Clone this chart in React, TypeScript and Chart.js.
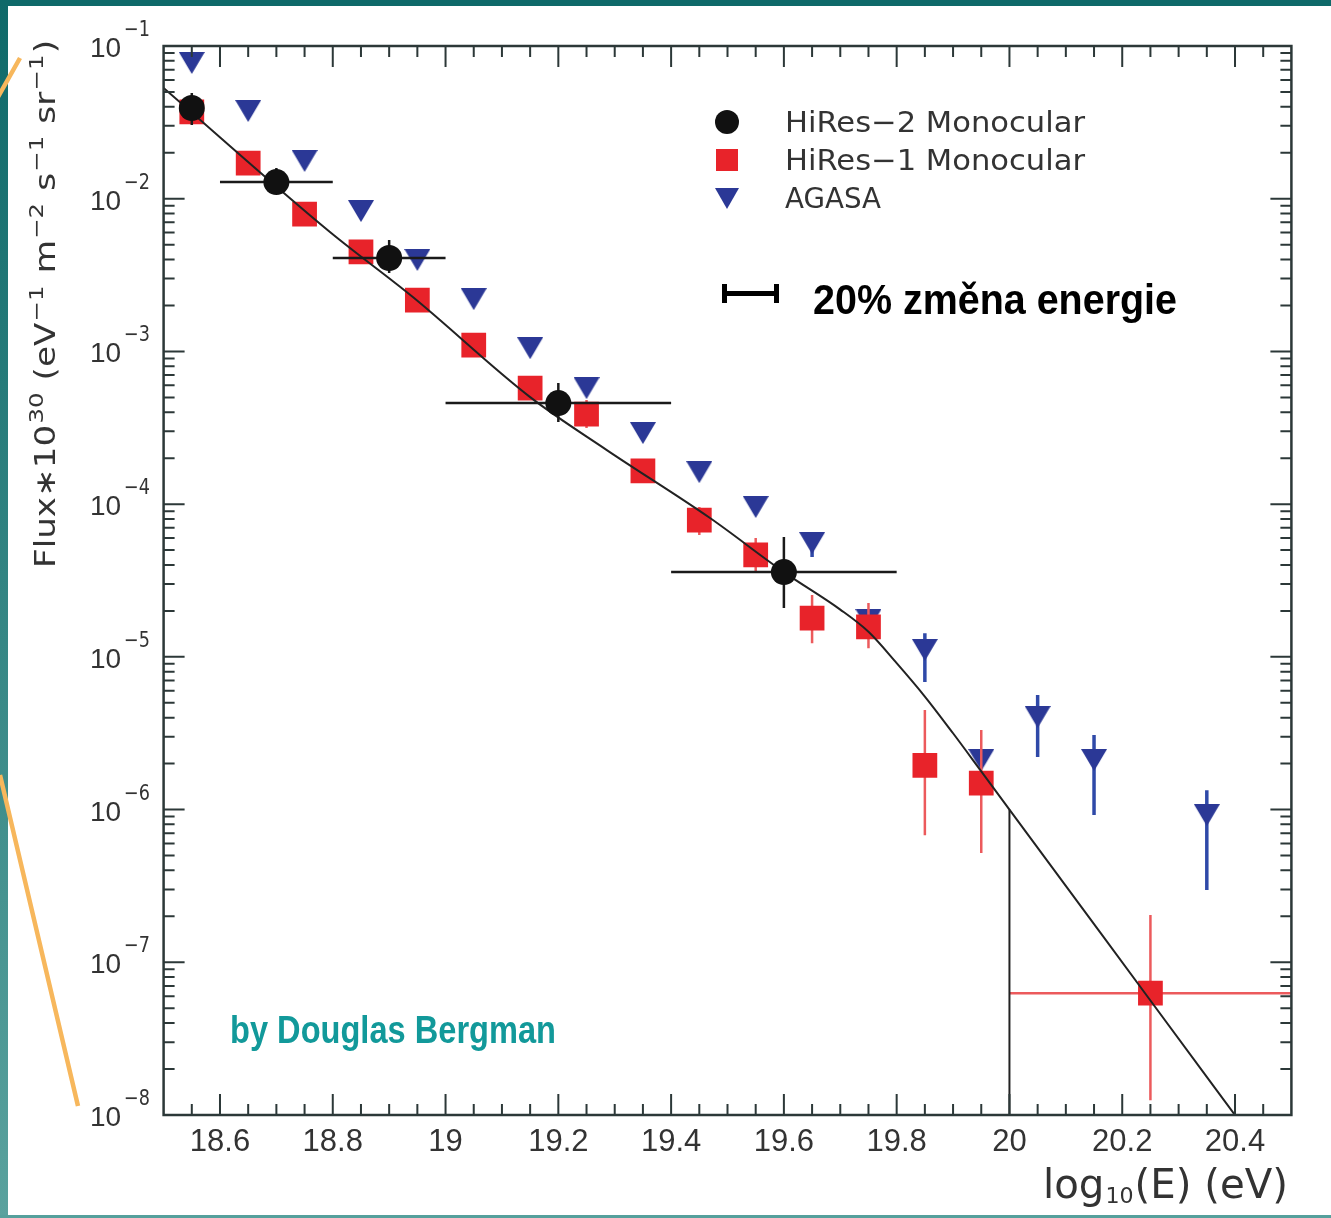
import React, { useEffect, useRef } from "react";
import { Chart, registerables } from "chart.js";

Chart.register(...registerables);

// ---------------- data ----------------
const hiRes2Energy = [18.55, 18.7, 18.9, 19.2, 19.6];
const hiRes2Flux = [3.93e-2, 1.285e-2, 4.09e-3, 4.59e-4, 3.59e-5];
const hiRes2FluxLow = [3.04e-2, 1.09e-2, 3.26e-3, 3.45e-4, 2.09e-5];
const hiRes2FluxHigh = [4.92e-2, 1.59e-2, 5.37e-3, 6.21e-4, 6.09e-5];
const hiRes2BinLow = [null, 18.6, 18.8, 19.0, 19.4];
const hiRes2BinHigh = [null, 18.8, 19.0, 19.4, 19.8];

const hiRes1Energy = [18.55, 18.65, 18.75, 18.85, 18.95, 19.05, 19.15, 19.25, 19.35, 19.45, 19.55, 19.65, 19.75, 19.85, 19.95, 20.25];
const hiRes1Flux = [3.7e-2, 1.71e-2, 7.94e-3, 4.48e-3, 2.17e-3, 1.1e-3, 5.75e-4, 3.89e-4, 1.65e-4, 7.87e-5, 4.65e-5, 1.79e-5, 1.57e-5, 1.95e-6, 1.49e-6, 6.28e-8];
const hiRes1FluxLow = [null, null, null, null, null, null, null, 3.15e-4, 1.4e-4, 6.28e-5, 3.59e-5, 1.23e-5, 1.14e-5, 6.8e-7, 5.19e-7, 1.25e-8];
const hiRes1FluxHigh = [null, null, null, null, null, null, null, 4.81e-4, 1.95e-4, 9.57e-5, 6.0e-5, 2.54e-5, 2.25e-5, 4.49e-6, 3.32e-6, 2.04e-7];
const hiRes1BinLow = [null, null, null, null, null, null, null, null, null, null, null, null, null, null, null, 20.0];
const hiRes1BinHigh = [null, null, null, null, null, null, null, null, null, null, null, null, null, null, null, 20.5];

const agasaEnergy = [18.55, 18.65, 18.75, 18.85, 18.95, 19.05, 19.15, 19.25, 19.35, 19.45, 19.55, 19.65, 19.75, 19.85, 19.95, 20.05, 20.15, 20.35];
const agasaFlux = [7.74e-2, 3.75e-2, 1.766e-2, 8.3e-3, 3.97e-3, 2.2e-3, 1.05e-3, 5.75e-4, 2.92e-4, 1.62e-4, 9.57e-5, 5.56e-5, 1.74e-5, 1.11e-5, 2.11e-6, 4.04e-6, 2.11e-6, 9.2e-7];
const agasaFluxLow = [null, null, null, null, null, null, null, null, null, null, null, 4.51e-5, null, 6.84e-6, null, 2.21e-6, 9.2e-7, 2.97e-7];
const agasaFluxHigh = [null, null, null, null, null, null, null, null, null, null, null, null, null, 1.43e-5, null, 5.62e-6, 3.08e-6, 1.34e-6];

const fitEnergy = [18.5, 18.795, 18.942, 19.15, 19.286, 19.469, 19.6, 19.7, 19.75, 19.8, 19.85, 19.9, 19.95, 20.0, 20.248, 20.41];
const fitFlux = [5.31e-2, 6.05e-3, 2.27e-3, 5.02e-4, 2.26e-4, 8.11e-5, 3.59e-5, 2.04e-5, 1.46e-5, 9.1e-6, 5.5e-6, 3.16e-6, 1.78e-6, 1.0e-6, 5.75e-8, 8.9e-9];

const thresholdEnergy = [20.0, 20.0];
const thresholdFlux = [1.0e-6, 1.0e-8];

const xTickValues = [18.6, 18.8, 19.0, 19.2, 19.4, 19.6, 19.8, 20.0, 20.2, 20.4];
const xTickLabels = ["18.6", "18.8", "19", "19.2", "19.4", "19.6", "19.8", "20", "20.2", "20.4"];
const yDecadeExponents = [-1, -2, -3, -4, -5, -6, -7, -8];
const yExponentLabels = ["−1", "−2", "−3", "−4", "−5", "−6", "−7", "−8"];

const legendLabels = ["HiRes−2 Monocular", "HiRes−1 Monocular", "AGASA"];
const xTitleMain = "log";
const xTitleSub = "10";
const xTitleRest = "(E) (eV)";
const yTitleParts: [string, boolean][] = [
  ["Flux∗10", false], ["30", true], [" (eV", false], ["−1", true], [" m", false], ["−2", true],
  [" s", false], ["−1", true], [" sr", false], ["−1", true], [")", false],
];
const annotationText = "20% změna energie";
const creditText = "by Douglas Bergman";

// ---------------- styles ----------------
const BLACK = "#111111";
const RED = "#e8232a";
const RED_ERR = "#ec5a5c";
const BLUE = "#2b3896";
const BLUE_ERR = "#2f49a8";
const FRAME = "#2c3838";
const TEXT = "#333333";
const NUM_FONT = '"Liberation Sans", Arial, sans-serif';
const TXT_FONT = '"DejaVu Sans", sans-serif';

const toPoints = (xs: number[], ys: number[]) => xs.map((x, i) => ({ x, y: ys[i] }));

type ErrSpec = {
  xs: number[];
  ys: number[];
  lo: (number | null)[];
  hi: (number | null)[];
  xlo: (number | null)[];
  xhi: (number | null)[];
  color: string;
  width: number;
};

const errorSpecs: Record<string, ErrSpec> = {
  [legendLabels[0]]: { xs: hiRes2Energy, ys: hiRes2Flux, lo: hiRes2FluxLow, hi: hiRes2FluxHigh, xlo: hiRes2BinLow, xhi: hiRes2BinHigh, color: "#1a1a1a", width: 2.5 },
  [legendLabels[1]]: { xs: hiRes1Energy, ys: hiRes1Flux, lo: hiRes1FluxLow, hi: hiRes1FluxHigh, xlo: hiRes1BinLow, xhi: hiRes1BinHigh, color: RED_ERR, width: 2.5 },
  [legendLabels[2]]: { xs: agasaEnergy, ys: agasaFlux, lo: agasaFluxLow, hi: agasaFluxHigh, xlo: agasaFluxLow.map(() => null), xhi: agasaFluxLow.map(() => null), color: BLUE_ERR, width: 3.5 },
};

function makeTriangle(w: number, h: number, color: string): HTMLCanvasElement {
  const c = document.createElement("canvas");
  c.width = w;
  c.height = h;
  const g = c.getContext("2d")!;
  g.fillStyle = color;
  g.beginPath();
  g.moveTo(0, 0);
  g.lineTo(w, 0);
  g.lineTo(w / 2, h);
  g.closePath();
  g.fill();
  return c;
}

function drawFitted(ctx: CanvasRenderingContext2D, text: string, x: number, y: number, width: number, font: string, color: string) {
  ctx.save();
  ctx.font = font;
  const w = ctx.measureText(text).width;
  ctx.translate(x, y);
  ctx.scale(width / w, 1);
  ctx.fillStyle = color;
  ctx.textAlign = "left";
  ctx.textBaseline = "alphabetic";
  ctx.fillText(text, 0, 0);
  ctx.restore();
}

const errorBarPlugin = {
  id: "errorBars",
  beforeDatasetDraw(chart: any, args: any) {
    const ds = chart.data.datasets[args.index];
    const spec = errorSpecs[ds.label];
    if (!spec) return;
    const { ctx, chartArea, scales } = chart;
    ctx.save();
    ctx.beginPath();
    ctx.rect(chartArea.left, chartArea.top, chartArea.right - chartArea.left, chartArea.bottom - chartArea.top);
    ctx.clip();
    ctx.strokeStyle = spec.color;
    ctx.lineWidth = spec.width;
    spec.xs.forEach((xv, i) => {
      const px = scales.x.getPixelForValue(xv);
      const py = scales.y.getPixelForValue(spec.ys[i]);
      const lo = spec.lo[i];
      const hi = spec.hi[i];
      if (lo != null || hi != null) {
        ctx.beginPath();
        ctx.moveTo(px, scales.y.getPixelForValue(hi != null ? hi : spec.ys[i]));
        ctx.lineTo(px, scales.y.getPixelForValue(lo != null ? lo : spec.ys[i]));
        ctx.stroke();
      }
      const xl = spec.xlo[i];
      const xh = spec.xhi[i];
      if (xl != null && xh != null) {
        ctx.beginPath();
        ctx.moveTo(scales.x.getPixelForValue(xl), py);
        ctx.lineTo(scales.x.getPixelForValue(xh), py);
        ctx.stroke();
      }
    });
    ctx.restore();
  },
};

const decorPlugin = {
  id: "decor",
  afterDraw(chart: any) {
    const { ctx, chartArea, scales } = chart;
    const { left, right, top, bottom } = chartArea;
    const xs = scales.x;
    const ys = scales.y;
    ctx.save();

    // ticks
    ctx.strokeStyle = FRAME;
    ctx.lineWidth = 2;
    const vt = (px: number, len: number) => {
      ctx.beginPath();
      ctx.moveTo(px, bottom);
      ctx.lineTo(px, bottom - len);
      ctx.moveTo(px, top);
      ctx.lineTo(px, top + len);
      ctx.stroke();
    };
    const ht = (py: number, len: number) => {
      ctx.beginPath();
      ctx.moveTo(left, py);
      ctx.lineTo(left + len, py);
      ctx.moveTo(right, py);
      ctx.lineTo(right - len, py);
      ctx.stroke();
    };
    for (let k = 1; k < 40; k++) {
      const v = 18.5 + k * 0.05;
      const isMajor = k % 4 === 2;
      vt(xs.getPixelForValue(v), isMajor ? 21 : 11);
    }
    for (let e = -8; e <= -1; e++) {
      if (e > -8 && e < -1) ht(ys.getPixelForValue(Math.pow(10, e)), 21);
      if (e < -1) {
        for (let m = 2; m <= 9; m++) ht(ys.getPixelForValue(m * Math.pow(10, e)), 11);
      }
    }

    // frame
    ctx.strokeStyle = FRAME;
    ctx.lineWidth = 2.5;
    ctx.strokeRect(left, top, right - left, bottom - top);

    // x tick labels
    ctx.fillStyle = TEXT;
    ctx.font = `31px ${NUM_FONT}`;
    ctx.textAlign = "center";
    ctx.textBaseline = "alphabetic";
    xTickValues.forEach((v, i) => {
      ctx.fillText(xTickLabels[i], xs.getPixelForValue(v), 1151);
    });

    // y tick labels (10 with superscript exponent)
    ctx.textAlign = "left";
    yDecadeExponents.forEach((e, i) => {
      const py = ys.getPixelForValue(Math.pow(10, e));
      ctx.font = `28px ${NUM_FONT}`;
      ctx.fillText("10", 90, py + 11);
      drawFitted(ctx, yExponentLabels[i], 124, py - 10, 26, `21px ${TXT_FONT}`, TEXT);
    });

    // x title
    {
      ctx.save();
      const mainFont = `40px ${TXT_FONT}`;
      const subFont = `22px ${TXT_FONT}`;
      ctx.font = mainFont;
      const w1 = ctx.measureText(xTitleMain).width;
      const w3 = ctx.measureText(xTitleRest).width;
      ctx.font = subFont;
      const w2 = ctx.measureText(xTitleSub).width + 2;
      const total = w1 + w2 + w3;
      const target = 245;
      ctx.translate(1043, 1198);
      ctx.scale(target / total, 1);
      ctx.fillStyle = TEXT;
      ctx.font = mainFont;
      ctx.fillText(xTitleMain, 0, 0);
      ctx.font = subFont;
      ctx.fillText(xTitleSub, w1 + 1, 5);
      ctx.font = mainFont;
      ctx.fillText(xTitleRest, w1 + w2, 0);
      ctx.restore();
    }

    // y title (rotated)
    {
      ctx.save();
      const baseFont = `28px ${TXT_FONT}`;
      const supFont = `20px ${TXT_FONT}`;
      const widths = yTitleParts.map(([t, sup]) => {
        ctx.font = sup ? supFont : baseFont;
        return ctx.measureText(t).width + (sup ? 2 : 0);
      });
      const total = widths.reduce((a, b) => a + b, 0);
      const target = 528;
      ctx.translate(55, 304);
      ctx.rotate(-Math.PI / 2);
      ctx.scale(target / total, 1);
      ctx.fillStyle = TEXT;
      let cx = -total / 2;
      yTitleParts.forEach(([t, sup], i) => {
        ctx.font = sup ? supFont : baseFont;
        ctx.fillText(t, cx + (sup ? 1 : 0), sup ? -12 : 0);
        cx += widths[i];
      });
      ctx.restore();
    }

    // legend
    ctx.fillStyle = BLACK;
    ctx.beginPath();
    ctx.arc(727, 122, 12, 0, Math.PI * 2);
    ctx.fill();
    ctx.fillStyle = RED;
    ctx.fillRect(716, 149, 22, 22);
    ctx.fillStyle = BLUE;
    ctx.beginPath();
    ctx.moveTo(715, 188);
    ctx.lineTo(739, 188);
    ctx.lineTo(727, 209);
    ctx.closePath();
    ctx.fill();
    const legendWidths = [300, 300, 96];
    legendLabels.forEach((t, i) => {
      drawFitted(ctx, t, 785, 132 + i * 38, legendWidths[i], `29px ${TXT_FONT}`, TEXT);
    });

    // energy-scale annotation
    ctx.fillStyle = "#000";
    ctx.fillRect(724, 291, 53, 5);
    ctx.fillRect(722, 284, 5, 19);
    ctx.fillRect(774, 284, 5, 19);
    drawFitted(ctx, annotationText, 813, 314, 364, `bold 43px "Liberation Sans Narrow", "Liberation Sans", Arial, sans-serif`, "#000");

    // credit
    drawFitted(ctx, creditText, 230, 1043, 326, `bold 38px "Liberation Sans Narrow", "Liberation Sans", Arial, sans-serif`, "#12999a");

    // decorative orange lines of the slide
    ctx.strokeStyle = "#f7b75c";
    ctx.lineWidth = 4.5;
    ctx.beginPath();
    ctx.moveTo(20, 58);
    ctx.lineTo(-2, 97);
    ctx.moveTo(0, 775);
    ctx.lineTo(78, 1106);
    ctx.stroke();

    ctx.restore();
  },
};

export default function App() {
  const canvasRef = useRef<HTMLCanvasElement | null>(null);

  useEffect(() => {
    const canvas = canvasRef.current;
    if (!canvas) return;
    const triangle = makeTriangle(26, 22, BLUE);
    const chart = new Chart(canvas, {
      type: "scatter",
      data: {
        datasets: [
          {
            label: legendLabels[0],
            data: toPoints(hiRes2Energy, hiRes2Flux),
            pointStyle: "circle",
            pointRadius: 13,
            pointBackgroundColor: BLACK,
            pointBorderWidth: 0,
            showLine: false,
            order: 0,
          },
          {
            label: "fit",
            data: toPoints(fitEnergy, fitFlux),
            showLine: true,
            borderColor: "#222",
            borderWidth: 2,
            pointRadius: 0,
            cubicInterpolationMode: "monotone",
            order: 1,
          },
          {
            label: "threshold",
            data: toPoints(thresholdEnergy, thresholdFlux),
            showLine: true,
            borderColor: "#222",
            borderWidth: 2,
            pointRadius: 0,
            order: 1,
          },
          {
            label: legendLabels[1],
            data: toPoints(hiRes1Energy, hiRes1Flux),
            pointStyle: "rect",
            pointRadius: 17.5,
            pointBackgroundColor: RED,
            pointBorderWidth: 0,
            showLine: false,
            order: 2,
          },
          {
            label: legendLabels[2],
            data: toPoints(agasaEnergy, agasaFlux),
            pointStyle: triangle as any,
            pointRadius: 12,
            showLine: false,
            order: 3,
          },
        ],
      },
      options: {
        animation: false,
        responsive: false,
        maintainAspectRatio: false,
        events: [],
        layout: { padding: { left: 163.6, top: 46, right: 1331 - 1291.4, bottom: 1218 - 1115 } },
        plugins: { legend: { display: false }, tooltip: { enabled: false } },
        scales: {
          x: { type: "linear", min: 18.5, max: 20.5, display: false },
          y: { type: "logarithmic", min: 1e-8, max: 1e-1, display: false },
        },
      },
      plugins: [errorBarPlugin, decorPlugin],
    } as any);
    return () => chart.destroy();
  }, []);

  return (
    <div style={{ position: "absolute", left: 0, top: 0, width: 1331, height: 1218, background: "#ffffff", overflow: "hidden" }}>
      <div style={{ position: "absolute", left: 0, top: 0, width: 1331, height: 6, background: "#0e6969" }} />
      <div style={{ position: "absolute", left: 0, top: 0, width: 8, height: 1218, background: "linear-gradient(#0e6969, #5aa29e)" }} />
      <div style={{ position: "absolute", left: 0, top: 1215, width: 1331, height: 3, background: "#55a09c" }} />
      <canvas ref={canvasRef} width={1331} height={1218} style={{ position: "absolute", left: 0, top: 0, width: 1331, height: 1218 }} />
    </div>
  );
}
